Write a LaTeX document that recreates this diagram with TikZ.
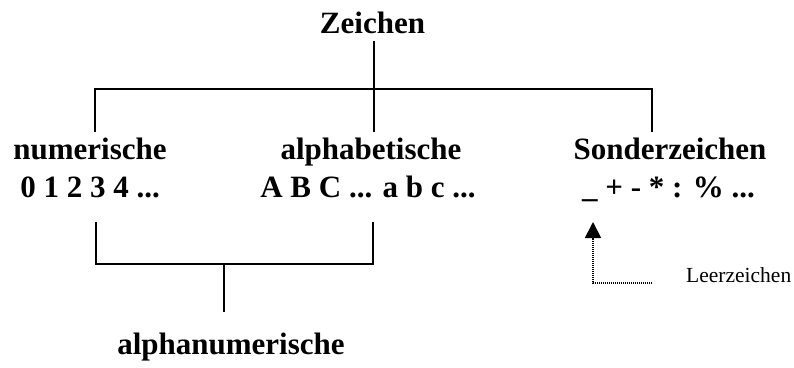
\documentclass[tikz,border=0pt]{standalone}
\usepackage{fontspec}
\setmainfont{Liberation Serif}
\usetikzlibrary{arrows.meta}
\begin{document}
\begin{tikzpicture}[x=1pt,y=-1pt,
  big/.style={font=\fontsize{31}{37}\selectfont\bfseries, inner sep=0pt, anchor=base},
  small/.style={font=\fontsize{21.5}{26}\selectfont, inner sep=0pt, anchor=base west},
  tree/.style={line width=1.7pt},
  hint/.style={line width=1.8pt, dash pattern=on 1.2pt off 0.8pt,
    -{Triangle[length=16pt,width=16pt]}}]
  \useasboundingbox (0,0) rectangle (794,367);

  % labels
  \node[big] (zeichen) at (372.5,33) {Zeichen};
  \node[big] (num)     at (90,159)   {numerische};
  \node[big] (numex)   at (90,197)   {0 1 2 3 4 ...};
  \node[big] (alpha)   at (371,159)  {alphabetische};
  \node[big] (alphaex) at (368,197)  {A B C ... a b c ...};
  \node[big] (sonder)  at (670,159)  {Sonderzeichen};
  \node[big, anchor=base west] (sonderex) at (582,197) {\_ + - * : \% ...};
  \node[big] (alnum)   at (231,354)  {alphanumerische};
  \node[small] (leer)  at (686,282)  {Leerzeichen};

  % upper tree: Zeichen splits into three groups
  \coordinate (zTop) at (374,41);
  \coordinate (zMid) at (374,89);
  \coordinate (nTop) at (95,89);
  \coordinate (sTop) at (652,89);
  \coordinate (nEnd) at (95,132);
  \coordinate (aEnd) at (374,132);
  \coordinate (sEnd) at (652,132);
  \draw[tree] (zTop) -- (aEnd);
  \draw[tree] (nEnd) -- (nTop) -- (sTop) -- (sEnd);

  % lower bracket: numerische + alphabetische = alphanumerische
  \coordinate (bL) at (96,222);
  \coordinate (bR) at (373,222);
  \coordinate (bLc) at (96,264);
  \coordinate (bRc) at (373,264);
  \coordinate (bMid) at (224,264);
  \coordinate (bEnd) at (224,312);
  \draw[tree] (bL) -- (bLc) -- (bRc) -- (bR);
  \draw[tree] (bMid) -- (bEnd);

  % pointer to the blank character
  \coordinate (lStart) at (652,283);
  \coordinate (lCorner) at (593,283);
  \coordinate (lTip) at (593,222);
  \draw[hint] (lStart) -- (lCorner) -- (lTip);
\end{tikzpicture}
\end{document}
